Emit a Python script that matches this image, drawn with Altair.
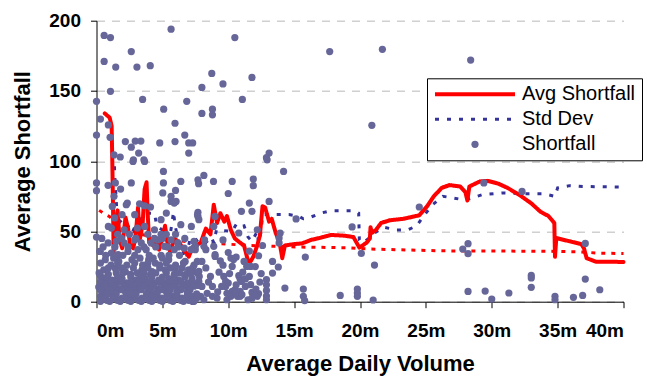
import altair as alt
import pandas as pd

FONT = "Liberation Sans"

# Individual stock shortfalls: (average daily volume in millions, shortfall)
SHORTFALL = [
    # sparse upper region
    (0.58, 189.5), (1.06, 188), (2.64, 178), (5.66, 194), (10.5, 188), (0.58, 171),
    (1.46, 167), (3.07, 167), (4.08, 168), (8.75, 162.5), (9.6, 155), (11.8, 159.6),
    (8.0, 152.5), (1.06, 149.7), (0.0, 142.6), (3.5, 144), (6.85, 142.6), (11.07, 144),
    (17.7, 178), (21.7, 179.6), (20.9, 125.5), (13.1, 105.8), (12.9, 102.5), (28.4, 172),
    (5.1, 137), (0.3, 130), (0.9, 125.8), (0.0, 118.6), (1.03, 117), (2.19, 114),
    (2.64, 110), (2.94, 114.3), (3.37, 114.3), (3.2, 105.8), (4.8, 113), (5.96, 127),
    (5.96, 114), (6.7, 118.6), (7.0, 113), (7.3, 113), (7.0, 105.8), (8.0, 134),
    (8.8, 137), (8.8, 133), (1.33, 104.6), (1.8, 103), (2.8, 101), (3.6, 101),
    (2.77, 99.8), (3.65, 99.8), (5.08, 92.7),
    # middle band
    (0.0, 84.5), (0.0, 79), (0.88, 82.8), (1.43, 84.5), (1.83, 80.2), (2.64, 84.5),
    (5.08, 84.5), (5.03, 77.4), (5.66, 75), (6.0, 79.2), (6.4, 85.6), (7.7, 86.8),
    (1.33, 75), (2.34, 70.2), (3.27, 69.7), (6.04, 71.4), (12.95, 101), (14.2, 92.7),
    (8.15, 89.9), (7.75, 84), (8.88, 85.6), (10.3, 85.6), (11.9, 87.3), (11.9, 82.6),
    (10.0, 77), (11.6, 70.2), (13.1, 71.4),
    # larger names
    (15.15, 58.9), (19.4, 53.2), (13.94, 48.9), (13.86, 45.3), (13.86, 41.8), (12.3, 32.7),
    (15.85, 31.8), (20.1, 34.4), (21.1, 26.1), (13.36, 28.7), (13.8, 24.7), (11.7, 25.1),
    (13.36, 20.4), (12.9, 15.7), (12.9, 12), (12.9, 8), (12.9, 4), (12.3, 5.7),
    (11.8, 6.6), (15.7, 9), (15.7, 3.8), (15.8, 0.8), (18.5, 4.5), (19.8, 9),
    (19.8, 6.2), (19.8, 3.8), (21.0, 1.2), (24.5, 67.4), (28.2, 41.3), (27.8, 37.5),
    (28.2, 34.2), (28.2, 7.3), (29.4, 84.5), (32.3, 78.5), (37.1, 41.5), (33.0, 18.7),
    (33.0, 16.9), (33.0, 10.2), (29.5, 7.6), (30.0, 1.9), (31.3, 6.2), (34.8, 3.8),
    (34.8, 1.4), (36.2, 3.1), (36.9, 4.5), (37.1, 16.1), (38.2, 8.5),
    # 7m - 13m cluster
    (0.28, 35.8), (0.3, 18.5), (0.3, 11.6), (0.3, 3.8), (11.8, 64.3), (12.2, 51.2),
    (11.0, 64.3), (7.7, 63.6), (7.7, 60.7), (8.9, 39.4), (9.0, 32.2), (9.8, 10.9),
    (10.0, 13.3), (10.4, 30), (10.6, 31.8), (10.3, 25.1), (10.8, 18.5), (11.2, 28.7),
    (12.05, 25), (12.2, 3.8), (11.0, 14.4), (11.3, 10.9), (11.7, 12.1), (10.3, 7.3),
    (10.5, 8.5), (10.7, 3.8), (10.2, 3.8), (10.9, 7.3), (10.9, 3.8), (8.8, 3.8),
    (9.5, 10.9), (8.8, 10.9), (8.0, 10.9), (7.9, 3.8), (7.65, 20.4), (7.8, 18),
    (7.3, 0.2), (7.5, 39.4), (7.5, 37), (8.3, 37), (8.2, 44), (9.0, 60.7),
    (7.77, 58.4), (8.9, 53.6), (10.8, 48.9), (8.15, 39.4), (9.0, 33.5), (10.2, 31.1),
    (7.65, 28.7), (8.0, 28.7), (11.4, 25.1), (7.77, 21.6), (7.77, 14.4), (8.65, 18),
    (9.66, 18), (9.8, 14.4), (10.9, 16.2), (11.3, 16.2), (14.3, 9.7), (10.55, 6.2),
    (11.04, 5), (11.5, 1.4), (9.9, 1.4), (9.15, 2.6), (8.15, 1.4), (12.9, 1.4),
    (8.4, 6), (8.5, 14), (9.2, 7), (9.3, 21), (9.6, 26), (9.9, 6), (10.1, 20),
    (10.6, 12), (11.1, 21), (11.6, 18), (12.1, 9), (12.4, 14), (8.3, 24), (9.4, 29),
    (11.8, 2.5), (12.5, 20), (10.0, 35), (9.6, 44), (11.6, 36), (12.6, 40),
    # dense cluster below 7m
    (1.2, 67.8), (2.26, 69), (3.65, 68.3), (4.1, 67.4), (5.66, 71.4), (5.9, 70.2),
    (7.67, 61.9), (1.94, 61.9), (1.38, 59.6), (2.9, 61.9), (4.9, 58.4), (5.3, 63.1),
    (0.9, 53.6), (1.13, 52.4), (0.0, 46), (2.1, 51.2), (3.1, 52.4), (3.65, 53.6),
    (4.4, 51.2), (6.4, 54.8), (7.2, 53.6), (0.88, 41.8), (1.5, 42.9), (2.1, 41.8),
    (2.9, 44), (3.4, 41.8), (4.15, 41.8), (4.66, 44), (5.66, 44), (6.17, 41.8),
    (7.4, 42.9), (0.25, 35.8), (1.13, 34.6), (1.64, 33.5), (2.39, 35.8), (3.14, 37),
    (3.77, 37), (5.15, 39.4), (5.9, 37), (6.66, 38.2), (7.17, 37),
    (0.67, 29.9), (1.69, 28.7), (2.69, 29.9), (3.96, 29.9), (4.46, 27.5), (5.48, 29.9),
    (6.73, 28.7), (0.55, 22.6), (1.43, 23.7), (2.19, 21.4), (3.45, 22.6), (4.21, 21.4),
    (5.22, 22.6), (5.98, 23.7), (6.99, 22.6), (0.42, 16.5), (1.18, 15.4), (1.94, 16.5),
    (2.95, 15.4), (3.7, 16.5), (4.72, 15.4), (5.48, 16.5), (6.24, 15.4), (7.25, 16.5),
    (0.17, 10.4), (0.93, 11.6), (1.69, 9.3), (2.45, 11.6), (3.2, 10.4), (3.96, 11.6),
    (4.72, 9.3), (5.48, 10.4), (6.24, 9.3), (7.0, 10.4), (7.76, 11.6),
    (0.42, 3.8), (1.18, 5.0), (1.94, 2.6), (2.7, 3.8), (3.45, 2.6), (4.21, 5.0),
    (4.97, 2.6), (5.73, 3.8), (6.49, 2.6), (7.25, 3.8),
    (1.1, 26), (2.3, 26), (3.5, 26), (4.8, 26), (6.0, 26), (7.4, 26),
    (0.9, 19.5), (2.6, 19.5), (4.1, 19.5), (5.9, 19.5), (6.8, 19.5),
    (0.7, 13.5), (1.5, 13.5), (2.3, 13.5), (3.6, 13.5), (4.4, 13.5), (5.2, 13.5),
    (6.0, 13.5), (6.9, 13.5), (0.6, 7), (1.4, 7), (2.2, 7), (3.0, 7), (3.9, 7),
    (4.6, 7), (5.3, 7), (6.1, 7), (6.9, 7), (0.8, 1), (1.6, 1), (2.4, 1), (3.2, 1),
    (4.0, 1), (4.8, 1), (5.6, 1), (6.4, 1), (7.0, 1),
    (1.6, 48), (2.5, 48), (3.9, 48), (4.9, 48), (5.3, 48), (6.0, 48),
    (0.4, 45), (1.9, 45), (3.0, 45), (4.4, 45), (5.0, 45), (6.7, 45),
    (0.5, 39), (1.4, 39), (2.4, 39), (3.6, 39), (4.5, 39), (5.4, 39), (6.2, 39),
    (0.7, 33), (2.0, 33), (2.9, 33), (4.0, 33), (4.9, 33), (5.5, 33), (6.3, 33),
    (1.3, 31), (3.3, 31), (4.3, 31), (5.0, 31),
    (0.3, 27.5), (1.6, 27.5), (2.9, 27.5), (3.9, 27.5), (5.3, 27.5), (6.6, 27.5),
    (0.9, 24), (1.9, 24), (2.8, 24), (3.9, 24), (4.8, 24), (5.6, 24), (6.5, 24), (7.3, 24),
    (0.2, 20.5), (1.5, 20.5), (2.0, 20.5), (3.1, 20.5), (3.6, 20.5), (4.5, 20.5),
    (5.3, 20.5), (6.3, 20.5), (7.2, 20.5),
    (0.8, 17.5), (1.6, 17.5), (2.6, 17.5), (3.3, 17.5), (4.2, 17.5), (5.0, 17.5),
    (5.9, 17.5), (6.7, 17.5),
    (0.3, 14), (1.1, 14), (1.9, 14), (2.7, 14), (3.2, 14), (4.0, 14), (4.8, 14),
    (5.6, 14), (6.4, 14), (7.3, 14),
    (0.6, 11), (1.3, 11), (2.1, 11), (2.8, 11), (3.6, 11), (4.3, 11), (5.1, 11),
    (5.8, 11), (6.6, 11), (7.4, 11),
    (0.3, 8.5), (1.0, 8.5), (1.9, 8.5), (2.6, 8.5), (3.4, 8.5), (4.1, 8.5), (4.9, 8.5),
    (5.6, 8.5), (6.4, 8.5), (7.1, 8.5),
    (0.8, 5.5), (1.5, 5.5), (2.3, 5.5), (3.0, 5.5), (3.8, 5.5), (4.6, 5.5), (5.4, 5.5),
    (6.1, 5.5), (6.9, 5.5), (7.6, 5.5),
    (0.6, 2.5), (1.3, 2.5), (2.1, 2.5), (2.9, 2.5), (3.7, 2.5), (4.4, 2.5), (5.2, 2.5),
    (6.0, 2.5), (6.8, 2.5), (7.6, 2.5),
    (0.3, 0.3), (1.0, 0.3), (1.8, 0.3), (2.6, 0.3), (3.4, 0.3), (4.2, 0.3), (5.0, 0.3),
    (5.8, 0.3), (6.6, 0.3), (7.4, 0.3),
]

# Moving average of shortfall
AVG_SHORTFALL = [
    (0.63, 134), (1.0, 131), (1.15, 125), (1.2, 100), (1.25, 70), (1.3, 35), (1.45, 55),
    (1.6, 65), (1.75, 45), (1.95, 38), (2.2, 60), (2.4, 52), (2.55, 40), (2.8, 38),
    (3.0, 50), (3.15, 67), (3.3, 45), (3.5, 55), (3.65, 80), (3.8, 85), (3.9, 60),
    (4.0, 42), (4.3, 40), (4.6, 44), (4.75, 37), (5.0, 45), (5.2, 54), (5.4, 42),
    (5.6, 35), (5.9, 45), (6.3, 42), (6.6, 37), (6.9, 34), (7.0, 32), (7.3, 39),
    (7.9, 41.8), (8.3, 52), (8.65, 48), (8.9, 69), (9.15, 56), (9.4, 63), (9.7, 57),
    (9.9, 61), (10.2, 51), (10.5, 45), (10.9, 42), (11.2, 40), (11.5, 29), (11.7, 28.7),
    (11.9, 32), (12.2, 40), (12.4, 47), (12.6, 68), (12.8, 67), (13.1, 57), (13.3, 59),
    (13.6, 49), (13.9, 42), (14.1, 31), (14.3, 40), (15.0, 41), (15.6, 41.5), (16.3, 44),
    (17.0, 45.5), (17.8, 47.5), (18.8, 47), (19.5, 46), (19.95, 38.5), (20.5, 42),
    (20.75, 45), (20.8, 53), (20.9, 49), (21.2, 51), (21.6, 56), (22.3, 58), (23.3, 59),
    (24.5, 61.5), (25.1, 68), (25.6, 75), (26.2, 81), (26.8, 83), (27.6, 82), (28.0, 78),
    (28.15, 72), (28.3, 82), (29.1, 85.6), (29.7, 86), (30.5, 84), (31.2, 81), (32.1, 76),
    (33.0, 70), (33.7, 64), (34.3, 61), (34.75, 56), (34.8, 32), (34.9, 45.3), (35.9, 43),
    (36.8, 41), (37.0, 38), (37.2, 31), (37.9, 28.5), (40.0, 28.3),
]

# Moving standard deviation
STD_DEV = [
    (1.35, 105), (1.38, 90), (1.5, 72), (1.6, 55), (1.9, 58), (2.2, 58), (2.5, 52),
    (2.7, 49), (3.0, 55), (3.4, 60), (3.7, 63), (4.4, 63), (4.55, 55), (4.7, 53),
    (5.0, 51), (5.3, 44), (5.6, 48), (5.85, 64), (5.95, 55), (6.2, 44), (6.6, 35),
    (6.8, 30), (7.1, 45), (7.5, 45), (7.8, 41), (8.3, 42), (8.7, 46), (8.9, 42),
    (9.1, 51), (10.3, 50), (10.6, 55), (10.9, 53), (11.2, 54), (11.5, 46), (11.8, 43),
    (12.2, 50), (12.3, 42), (12.5, 50), (12.6, 62), (13.4, 62), (14.6, 62), (15.3, 61),
    (15.7, 59), (16.1, 59.6), (17.0, 63), (17.8, 64.8), (19.6, 64.8), (19.9, 63),
    (19.95, 44), (20.2, 41.8), (20.7, 45.3), (21.1, 49), (21.8, 53), (22.8, 51),
    (23.6, 51), (24.3, 54), (24.8, 60.7), (25.5, 69), (26.3, 75), (27.1, 73.8),
    (27.8, 72.6), (28.2, 73), (28.6, 74.2), (29.3, 76.2), (30.8, 77.4), (32.4, 76.9),
    (33.9, 76.9), (34.8, 75), (35.0, 81), (35.9, 82.6), (36.9, 82), (40.0, 81.6),
]

# Cumulative average shortfall
CUM_AVG = [
    (0.2, 65), (0.6, 62.5), (1.0, 60.5), (1.5, 56), (2.0, 53), (3.0, 49), (4.0, 46.5),
    (5.0, 45), (5.9, 44), (7.4, 42), (9.4, 41.3), (11.6, 40), (15.4, 38.9), (19.2, 38.4),
    (20.6, 37.5), (26.2, 36.2), (34.2, 35.9), (36.7, 35.5), (38.2, 34.5), (40.0, 34.3),
]

SERIES = ["Avg Shortfall", "Std Dev", "Shortfall"]
COLORS = ["#FF0000", "#333399", "#666699"]
DASHES = [[1, 0], [4, 8], [1, 0]]
WIDTHS = [4, 3, 0]
SHAPES = ["stroke", "stroke", "circle"]
SIZES = [6400, 6400, 52]
X_TICKS = list(range(0, 41, 5))
Y_TICKS = [0, 50, 100, 150, 200]


def frame(pairs, name):
    return pd.DataFrame({
        "adv": [p[0] for p in pairs],
        "val": [p[1] for p in pairs],
        "series": name,
        "i": list(range(len(pairs))),
    })


pts_df = frame(SHORTFALL, "Shortfall")
avg_df = frame(AVG_SHORTFALL, "Avg Shortfall")
std_df = frame(STD_DEV, "Std Dev")
cum_df = frame(CUM_AVG, "Cumulative")

legend = alt.Legend(
    title=None,
    orient="none",
    legendX=330.5,
    legendY=57.6,
    direction="vertical",
    clipHeight=20,
    rowPadding=5,
    padding=6,
    labelFont=FONT,
    labelFontSize=20,
    labelColor="black",
    labelOffset=5,
    labelLimit=0,
    strokeColor="black",
    fillColor="white",
    cornerRadius=0,
    symbolOpacity=1,
)

color = alt.Color("series:N", scale=alt.Scale(domain=SERIES, range=COLORS), legend=legend)
dash = alt.StrokeDash("series:N", scale=alt.Scale(domain=SERIES, range=DASHES), legend=legend)
width = alt.StrokeWidth(
    "series:N", scale=alt.Scale(type="ordinal", domain=SERIES, range=WIDTHS), legend=legend
)
shape = alt.Shape("series:N", scale=alt.Scale(domain=SERIES, range=SHAPES), legend=legend)
size = alt.Size(
    "series:N", scale=alt.Scale(type="ordinal", domain=SERIES, range=SIZES), legend=legend
)

x_enc = alt.X(
    "adv:Q",
    scale=alt.Scale(domain=[0, 40], nice=False, zero=False),
    axis=alt.Axis(
        values=X_TICKS,
        labelExpr="datum.value + 'm'",
        title="Average Daily Volume",
        grid=False,
        labelPadding=14,
        titlePadding=13,
    ),
)
y_enc = alt.Y(
    "val:Q",
    scale=alt.Scale(domain=[0, 200], nice=False),
    axis=alt.Axis(
        values=Y_TICKS,
        title="Average Shortfall",
        grid=True,
        gridDash=[8, 7],
        gridColor="#D0D0D0",
        gridWidth=1.5,
        labelPadding=10,
        titlePadding=14,
    ),
)

cum_line = alt.Chart(cum_df).mark_line(
    strokeWidth=3, strokeDash=[4, 6], color="#FF0000"
).encode(x=x_enc, y=y_enc, order="i:Q")

std_line = alt.Chart(std_df).mark_line().encode(
    x=x_enc, y=y_enc, order="i:Q", color=color, strokeDash=dash, strokeWidth=width
)

avg_line = alt.Chart(avg_df).mark_line(strokeJoin="round", strokeCap="round").encode(
    x=x_enc, y=y_enc, order="i:Q", color=color, strokeDash=dash, strokeWidth=width
)

points = alt.Chart(pts_df).mark_point(filled=True, opacity=1).encode(
    x=x_enc, y=y_enc, color=color, shape=shape, size=size
)

chart = (
    alt.layer(cum_line, std_line, avg_line, points)
    .properties(
        width=527,
        height=281,
        autosize=alt.AutoSizeParams(type="none"),
        padding={"left": 96.5, "top": 20.7, "right": 23.5, "bottom": 76.3},
        background="white",
    )
    .configure_view(stroke=None)
    .configure_axis(
        domainColor="black",
        domainWidth=1,
        tickColor="black",
        tickSize=6,
        tickWidth=1,
        labelFont=FONT,
        labelFontSize=19,
        labelFontWeight="bold",
        labelColor="black",
        titleFont=FONT,
        titleFontSize=22,
        titleFontWeight="bold",
        titleColor="black",
    )
)

chart.save("out.html", embed_options={"renderer": "svg", "actions": False})
